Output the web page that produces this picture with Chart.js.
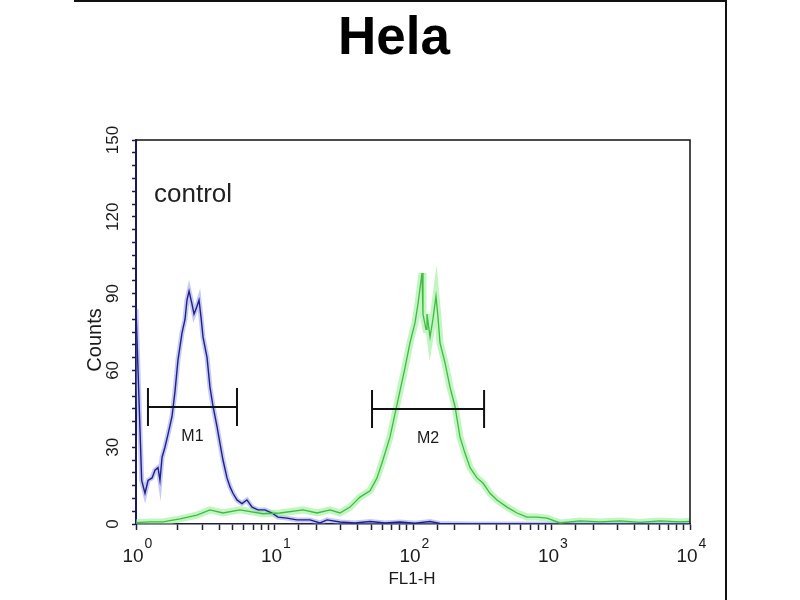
<!DOCTYPE html>
<html>
<head>
<meta charset="utf-8">
<title>Hela</title>
<script src="https://cdn.jsdelivr.net/npm/chart.js@4.4.1/dist/chart.umd.min.js"></script>
<style>
  html, body { margin: 0; padding: 0; background: #fff; }
  canvas { display: block; }
</style>
</head>
<body>
<canvas id="histChart" width="800" height="600"></canvas>
<script>
// Histogram values: FL1-H position in decades (log10), counts per channel
const controlDecades = [0.00, 0.041, 0.065, 0.087, 0.116, 0.137, 0.159, 0.173, 0.188, 0.209,
  0.231, 0.260, 0.282, 0.303, 0.332, 0.354, 0.368, 0.383, 0.404, 0.419, 0.440, 0.455, 0.469,
  0.484, 0.513, 0.534, 0.556, 0.585, 0.606, 0.628, 0.657, 0.679, 0.700, 0.729, 0.765, 0.801,
  0.838, 0.881, 0.931, 0.982, 1.025, 1.090, 1.162, 1.256, 1.329, 1.379, 1.473, 1.581, 1.690,
  1.798, 1.906, 2.014, 2.123, 2.195, 2.412, 2.989, 4.000];
const controlCounts = [84, 17, 12, 17, 18, 21, 22, 17, 26, 30,
  35, 42, 52, 64, 74.6, 80, 87.5, 91, 86, 82, 85, 87.5, 81,
  73, 65, 53.5, 46, 38, 31.6, 25, 18, 14.5, 12, 9.4, 8, 9.4,
  6.6, 5.5, 5.5, 4.3, 2.7, 2.3, 1.6, 1.6, 0.4, 1.6, 0.8, 0.4, 1.0,
  0.4, 0.8, 0.3, 1.0, 0.2, 0, 0, 0];

const sampleDecades = [0.000, 0.101, 0.195, 0.318, 0.440, 0.534, 0.628, 0.751, 0.917, 1.040,
  1.206, 1.307, 1.401, 1.473, 1.545, 1.617, 1.690, 1.740, 1.783, 1.834, 1.870, 1.906, 1.942,
  1.978, 2.014, 2.036, 2.065, 2.072, 2.094, 2.101, 2.123, 2.144, 2.166, 2.180, 2.195, 2.231,
  2.267, 2.303, 2.339, 2.375, 2.412, 2.462, 2.505, 2.556, 2.606, 2.679, 2.751, 2.823, 2.895,
  2.968, 3.061, 3.206, 3.350, 3.495, 3.639, 3.783, 3.928, 4.000];
const sampleCounts = [0.5, 0.8, 0.8, 2.0, 3.5, 5.5, 4.3, 5.5, 4.0, 4.3,
  5.5, 4.3, 5.5, 4.3, 6.6, 10.5, 13, 18, 25, 34, 43, 52, 61,
  70.7, 78.5, 86, 98, 82, 76, 82, 73, 80, 89, 81, 70.7, 63,
  53.5, 46, 34, 27.7, 22, 18, 16, 12, 9.4, 6.6, 4.3, 2.7, 2.7,
  2.3, 0.4, 1.2, 0.8, 1.2, 0.6, 1.2, 0.8, 1.0];

const yTickLabels = [0, 30, 60, 90, 120, 150];
const xTickExponents = [0, 1, 2, 3, 4];

// Marker gates
const gateNames = ['M1', 'M2'];
const gateStart = [1.22, 50.6];
const gateEnd = [5.36, 326];
const gateLevel = [45.7, 44.9];

function toPoints(decades, counts) {
  return decades.map((d, i) => ({ x: Math.pow(10, d), y: counts[i] }));
}

const controlPoints = toPoints(controlDecades, controlCounts);
const samplePoints = toPoints(sampleDecades, sampleCounts);

const NARROW = '"Liberation Sans Narrow", "Liberation Sans", Arial, sans-serif';
const SANS = '"Liberation Sans", Arial, sans-serif';

// Draws the frame, titles, axis labels and gate markers
const flowDecorations = {
  id: 'flowDecorations',
  beforeDraw(chart) {
    const ctx = chart.ctx;
    ctx.save();
    ctx.fillStyle = '#ffffff';
    ctx.fillRect(0, 0, chart.width, chart.height);
    ctx.restore();
  },
  afterDraw(chart) {
    const ctx = chart.ctx;
    const area = chart.chartArea;
    const xs = chart.scales.x;
    const ys = chart.scales.y;
    ctx.save();

    // outer picture border (top and right)
    ctx.strokeStyle = '#111111';
    ctx.lineWidth = 2;
    ctx.beginPath();
    ctx.moveTo(74, 1);
    ctx.lineTo(726, 1);
    ctx.moveTo(726, 0);
    ctx.lineTo(726, 600);
    ctx.stroke();

    // plot frame top and right
    ctx.lineWidth = 1.5;
    ctx.beginPath();
    ctx.moveTo(area.left, area.top);
    ctx.lineTo(area.right, area.top);
    ctx.lineTo(area.right, area.bottom);
    ctx.stroke();

    // title
    ctx.fillStyle = '#000000';
    ctx.font = 'bold 53px ' + SANS;
    ctx.textAlign = 'center';
    ctx.textBaseline = 'alphabetic';
    ctx.fillText('Hela', 394, 54);

    // control label
    ctx.fillStyle = '#222222';
    ctx.font = '26px ' + NARROW;
    ctx.textAlign = 'left';
    ctx.fillText('control', 154, 202);

    // x tick labels: 10 with a raised exponent
    ctx.fillStyle = '#1a1a1a';
    xTickExponents.forEach(e => {
      const px = xs.getPixelForValue(Math.pow(10, e));
      ctx.font = '19px ' + NARROW;
      ctx.textAlign = 'center';
      ctx.textBaseline = 'alphabetic';
      const w = ctx.measureText('10').width;
      ctx.fillText('10', px - 3, 562);
      ctx.font = '14px ' + NARROW;
      ctx.textAlign = 'left';
      ctx.fillText(String(e), px - 3 + w / 2 + 1, 548);
    });

    // y tick labels, rotated
    ctx.font = '17px ' + NARROW;
    ctx.textAlign = 'center';
    ctx.textBaseline = 'middle';
    yTickLabels.forEach(v => {
      const py = ys.getPixelForValue(v);
      ctx.save();
      ctx.translate(113, py);
      ctx.rotate(-Math.PI / 2);
      ctx.fillText(String(v), 0, 0);
      ctx.restore();
    });

    // y axis title
    ctx.save();
    ctx.translate(95, 340);
    ctx.rotate(-Math.PI / 2);
    ctx.font = '20px ' + NARROW;
    ctx.fillText('Counts', 0, 0);
    ctx.restore();

    // x axis title
    ctx.font = '17px ' + NARROW;
    ctx.fillText('FL1-H', 412, 579);

    // gates
    ctx.strokeStyle = '#111111';
    ctx.lineWidth = 2;
    ctx.font = '16px ' + NARROW;
    gateNames.forEach((name, i) => {
      const x1 = xs.getPixelForValue(gateStart[i]);
      const x2 = xs.getPixelForValue(gateEnd[i]);
      const y = ys.getPixelForValue(gateLevel[i]);
      ctx.beginPath();
      ctx.moveTo(x1, y);
      ctx.lineTo(x2, y);
      ctx.moveTo(x1, y - 19);
      ctx.lineTo(x1, y + 19);
      ctx.moveTo(x2, y - 19);
      ctx.lineTo(x2, y + 19);
      ctx.stroke();
      ctx.fillText(name, (x1 + x2) / 2, y + 30);
    });

    ctx.restore();
  }
};

const ctx = document.getElementById('histChart').getContext('2d');

new Chart(ctx, {
  type: 'line',
  data: {
    datasets: [
      {
        label: 'control halo',
        data: controlPoints,
        borderColor: 'rgba(130, 140, 230, 0.45)',
        borderWidth: 5,
        pointRadius: 0,
        tension: 0,
        order: 3
      },
      {
        label: 'sample halo',
        data: samplePoints,
        borderColor: 'rgba(140, 238, 140, 0.55)',
        borderWidth: 7,
        pointRadius: 0,
        tension: 0,
        order: 2
      },
      {
        label: 'control',
        data: controlPoints,
        borderColor: '#1f1f8a',
        borderWidth: 1.4,
        pointRadius: 0,
        tension: 0,
        order: 1
      },
      {
        label: 'sample',
        data: samplePoints,
        borderColor: '#44b844',
        borderWidth: 1.3,
        pointRadius: 0,
        tension: 0,
        order: 0
      }
    ]
  },
  options: {
    responsive: false,
    animation: false,
    devicePixelRatio: 1,
    layout: {
      padding: { left: 0, top: 140, right: 110, bottom: 0 }
    },
    scales: {
      x: {
        type: 'logarithmic',
        min: 1,
        max: 10000,
        border: { color: '#20203a', width: 1.5 },
        grid: {
          drawOnChartArea: false,
          drawTicks: true,
          tickLength: 6,
          tickColor: '#20203a',
          tickWidth: 1.5
        },
        ticks: {
          autoSkip: false,
          maxRotation: 0,
          minRotation: 0,
          display: false
        },
        afterFit: scale => { scale.height = 76; }
      },
      y: {
        type: 'linear',
        min: 0,
        max: 150,
        border: { color: '#1a1a5a', width: 2 },
        grid: {
          drawOnChartArea: false,
          drawTicks: true,
          tickLength: 4,
          tickColor: '#1a1a5a',
          tickWidth: 1.5
        },
        ticks: {
          stepSize: 5,
          display: false
        },
        afterFit: scale => { scale.width = 136; }
      }
    },
    plugins: {
      legend: { display: false },
      title: { display: false },
      tooltip: { enabled: false }
    }
  },
  plugins: [flowDecorations]
});
</script>
</body>
</html>
